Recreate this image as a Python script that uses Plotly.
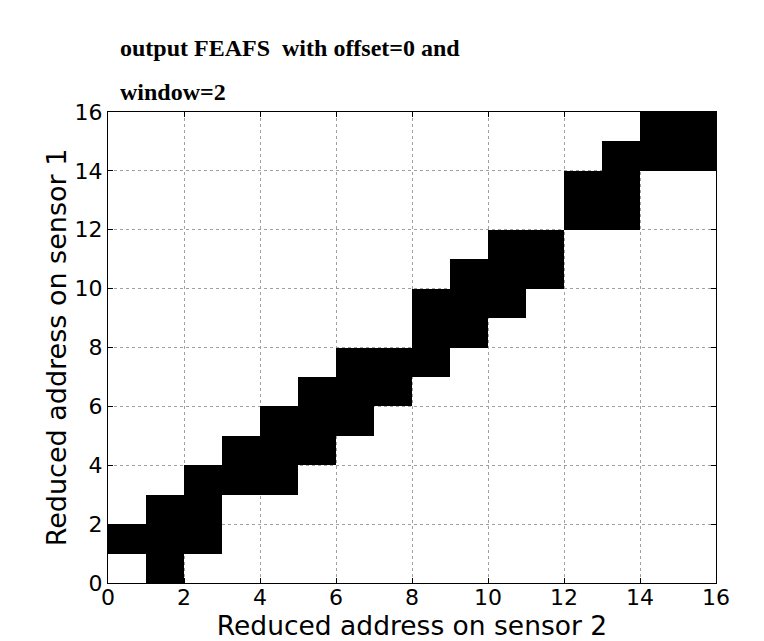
import plotly.graph_objects as go

# Black (active) cells: for each row on sensor 1 (y), the columns on sensor 2 (x)
rows_y = list(range(16))
active_x = [
    [1],            # y=0
    [0, 1, 2],      # y=1
    [1, 2],         # y=2
    [2, 3, 4],      # y=3
    [3, 4, 5],      # y=4
    [4, 5, 6],      # y=5
    [5, 6, 7],      # y=6
    [6, 7, 8],      # y=7
    [8, 9],         # y=8
    [8, 9, 10],     # y=9
    [9, 10, 11],    # y=10
    [10, 11],       # y=11
    [12, 13],       # y=12
    [12, 13],       # y=13
    [13, 14, 15],   # y=14
    [14, 15],       # y=15
]
n = 16
edges = list(range(n + 1))
tick_vals = list(range(0, 17, 2))
tick_text = [str(v) for v in tick_vals]
title_line1 = "output FEAFS  with offset=0 and"
title_line2 = "window=2"
x_title = "Reduced address on sensor 2"
y_title = "Reduced address on sensor 1"

z = [[None] * n for _ in range(n)]
for y, xs in zip(rows_y, active_x):
    for x in xs:
        z[y][x] = 1

fig = go.Figure(go.Heatmap(
    z=z, x=edges, y=edges,
    colorscale=[[0, "black"], [1, "black"]],
    showscale=False, hoverongaps=False,
))

axis_common = dict(
    range=[0, 16], tickvals=tick_vals, ticktext=tick_text,
    showgrid=True, gridcolor="#a0a0a0", gridwidth=1, griddash="dot",
    showline=True, linecolor="black", linewidth=1, mirror="ticks",
    ticks="inside", ticklen=5, tickcolor="black",
    tickfont=dict(family="DejaVu Sans", size=22, color="black"),
    zeroline=False,
)

W, H = 748, 641
L, R, T, B = 100, 40, 104, 66
ph = H - T - B

title_font = dict(family="Liberation Serif", size=24, color="black")
fig.update_layout(
    width=W, height=H,
    margin=dict(l=L, r=R, t=T, b=B),
    paper_bgcolor="white", plot_bgcolor="white",
    xaxis=dict(**axis_common, ticklabelstandoff=-5, automargin=True,
               title=dict(text=x_title,
                          font=dict(family="DejaVu Sans", size=26.5, color="black"),
                          standoff=0)),
    yaxis=dict(**axis_common, automargin=False,
               title=dict(text=y_title,
                          font=dict(family="DejaVu Sans", size=27, color="black"),
                          standoff=0)),
    annotations=[
        dict(text="<b>" + title_line1 + "</b>", font=title_font, showarrow=False,
             xref="paper", yref="paper", x=10 / 608, y=1 + 49 / ph,
             xanchor="left", yanchor="bottom"),
        dict(text="<b>" + title_line2 + "</b>", font=title_font, showarrow=False,
             xref="paper", yref="paper", x=10 / 608, y=1 + 5 / ph,
             xanchor="left", yanchor="bottom"),
    ],
)

fig.write_html("out.html")
